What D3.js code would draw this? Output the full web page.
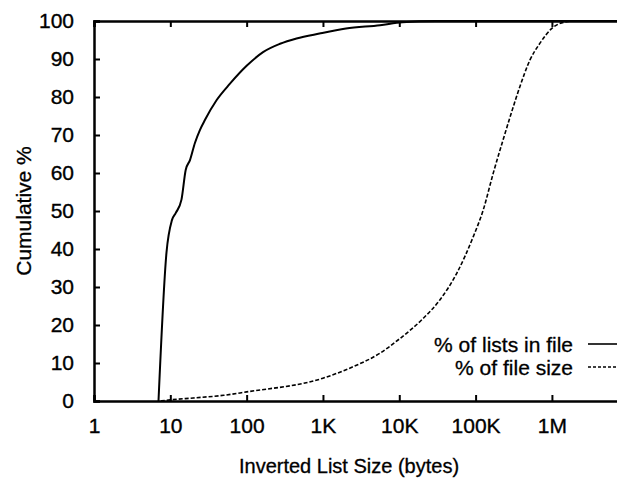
<!DOCTYPE html>
<html>
<head>
<meta charset="utf-8">
<script src="https://cdn.jsdelivr.net/npm/d3@7"></script>
<style>
  html, body { margin: 0; padding: 0; background: #fff; }
  svg text { font-family: "Liberation Sans", Arial, Helvetica, sans-serif; fill: #000; }
</style>
</head>
<body>
<svg id="chart" width="617" height="479"></svg>
<script>
// ---- data ----
const xTickValues = [1, 10, 100, 1e3, 1e4, 1e5, 1e6];
const xTickLabels = ["1", "10", "100", "1K", "10K", "100K", "1M"];
const yTickValues = [0, 10, 20, 30, 40, 50, 60, 70, 80, 90, 100];

const listsSize = [7, 8.9, 10.5, 11.8, 14, 15.9, 18.1, 21, 24.4, 28.5, 40.5, 60.5, 100, 164, 274, 450, 900, 2000, 5600, 11000, 30000, 1e6, 7.8e6];
const listsPct  = [0, 39, 47.6, 49.5, 53, 60.8, 63.4, 67.9, 71.3, 74, 79.2, 83.5, 88.2, 91.8, 94, 95.4, 96.7, 98, 98.9, 99.7, 100, 100, 100];

const fileSize = [7.5, 10, 20, 50, 100, 1000, 2275, 5600, 10000, 20000, 34000, 56600, 93000, 126000, 170000, 229000, 296000, 380000, 515000, 694000, 990000, 1.55e6, 2e6, 7.8e6];
const filePct  = [0, 0.3, 0.8, 1.5, 2.4, 6, 8.7, 12.6, 16.3, 21.5, 26.6, 33.6, 43.2, 50.3, 59.9, 68.7, 76, 82.7, 89.7, 94.1, 98, 99.8, 100, 100];

const seriesNames = ["% of lists in file", "% of file size"];

// ---- layout ----
const svg = d3.select("#chart");
const pLeft = 94, pTop = 21, pBottom = 401, pRight = 620;
const x = d3.scaleLog().domain([1, 7.8e6]).range([pLeft, pRight]);
const y = d3.scaleLinear().domain([0, 100]).range([pBottom, pTop]);

// axes
const xBottom = d3.axisBottom(x).tickValues(xTickValues).tickSize(-6).tickFormat((d, i) => xTickLabels[i]);
const gx = svg.append("g").attr("transform", `translate(0,${pBottom})`).call(xBottom);
gx.select(".domain").attr("stroke-width", 2.5);
gx.selectAll(".tick line").attr("stroke-width", 2);
gx.selectAll(".tick text").attr("font-size", 21).attr("font-family", "Liberation Sans, Arial, sans-serif")
  .attr("stroke", "#000").attr("stroke-width", 0.35).attr("dy", null).attr("y", 32);

const xTop = d3.axisTop(x).tickValues(xTickValues).tickSize(-6).tickFormat("");
const gt = svg.append("g").attr("transform", `translate(0,${pTop})`).call(xTop);
gt.select(".domain").attr("stroke-width", 2.5);
gt.selectAll(".tick line").attr("stroke-width", 2);

const yLeft = d3.axisLeft(y).tickValues(yTickValues).tickSize(-6).tickPadding(20);
const gy = svg.append("g").attr("transform", `translate(${pLeft},0)`).call(yLeft);
gy.select(".domain").attr("stroke-width", 2.5);
gy.selectAll(".tick line").attr("stroke-width", 2);
gy.selectAll(".tick text").attr("font-size", 21).attr("font-family", "Liberation Sans, Arial, sans-serif")
  .attr("stroke", "#000").attr("stroke-width", 0.35);

// axis titles
svg.append("text").attr("x", 349).attr("y", 473).attr("text-anchor", "middle")
  .attr("font-size", 20).attr("stroke", "#000").attr("stroke-width", 0.3)
  .text("Inverted List Size (bytes)");
svg.append("text").attr("transform", "translate(31,211) rotate(-90)").attr("text-anchor", "middle")
  .attr("font-size", 21).attr("stroke", "#000").attr("stroke-width", 0.3)
  .text("Cumulative %");

// curves
const line = d3.line().x(d => x(d[0])).y(d => y(d[1])).curve(d3.curveMonotoneX);
const listsData = listsSize.map((s, i) => [s, listsPct[i]]);
const fileData = fileSize.map((s, i) => [s, filePct[i]]);

svg.append("path").datum(listsData).attr("d", line)
  .attr("fill", "none").attr("stroke", "#000").attr("stroke-width", 2);
svg.append("path").datum(fileData).attr("d", line)
  .attr("fill", "none").attr("stroke", "#000").attr("stroke-width", 1.6).attr("stroke-dasharray", "4,2");

// legend
const legend = svg.append("g");
const legY = [352, 375];
seriesNames.forEach((name, i) => {
  legend.append("text").attr("x", 573).attr("y", legY[i]).attr("text-anchor", "end")
    .attr("font-size", 21).attr("stroke", "#000").attr("stroke-width", 0.3).text(name);
  legend.append("line").attr("x1", 588).attr("x2", 617).attr("y1", legY[i] - 8).attr("y2", legY[i] - 8)
    .attr("stroke", "#000").attr("stroke-width", i === 0 ? 1.6 : 1.4)
    .attr("stroke-dasharray", i === 0 ? null : "3,2");
});
</script>
</body>
</html>
